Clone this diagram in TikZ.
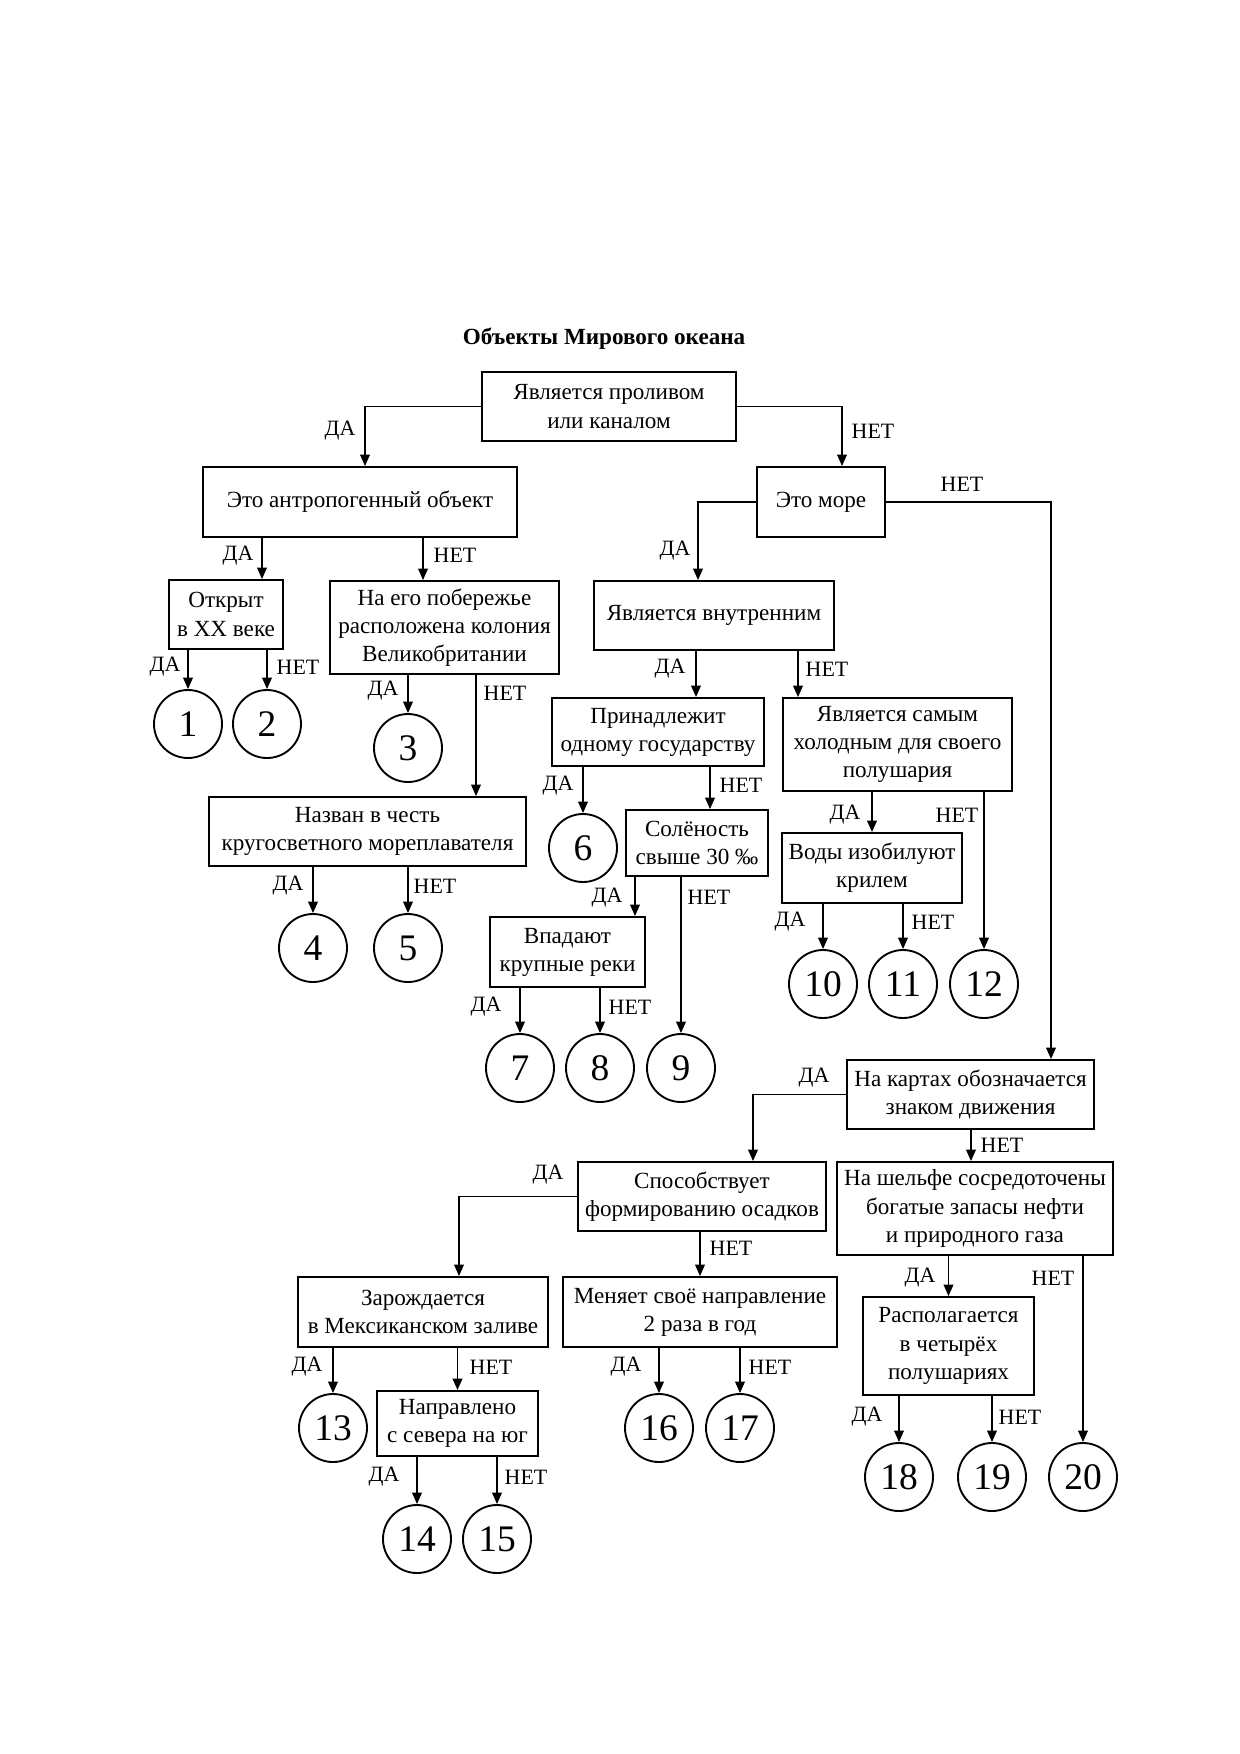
\documentclass[tikz,border=0pt]{standalone}
\usepackage{fontspec}
\setmainfont{Liberation Serif}
\usetikzlibrary{arrows.meta}
\tikzset{
  box/.style={draw, line width=0.9pt, inner sep=0pt, align=center, font=\fontsize{11.1}{13.5}\selectfont},
  bx/.style 2 args={minimum width=#1*0.48pt, minimum height=#2*0.48pt},
  res/.style={draw, circle, line width=0.9pt, inner sep=0pt, minimum size=68*0.48pt, font=\fontsize{18}{20}\selectfont},
  lbl/.style={inner sep=0pt, font=\fontsize{10.5}{12.5}\selectfont},
  arr/.style={line width=0.9pt, -{Triangle[length=5.5pt,width=4.6pt]}}
}
\begin{document}
\begin{tikzpicture}[x=0.48pt, y=-0.48pt]
\fill[white] (0,0) rectangle (1240,1754);
\useasboundingbox (0,0) rectangle (1240,1754);

\node[font=\fontsize{11.1}{13.5}\selectfont\bfseries] (title) at (604,339) {Объекты Мирового океана};

% boxes
\node[box, bx={254}{69}] (A) at (609,406.5) {Является проливом\\или каналом};
\node[box, bx={314}{70}] (B) at (360,502) {Это антропогенный объект};
\node[box, bx={128}{70}] (C) at (821,502) {Это море};
\node[box, bx={240}{69}] (D) at (714,615.5) {Является внутренним};
\node[box, bx={114}{69}] (E) at (226,614.5) {Открыт\\в XX веке};
\node[box, bx={229}{93}] (F) at (444.5,627.5) {На его побережье\\расположена колония\\Великобритании};
\node[box, bx={317}{69}] (G) at (367.5,831.5) {Назван в честь\\кругосветного мореплавателя};
\node[box, bx={212}{68}] (L) at (658,732) {Принадлежит\\одному государству};
\node[box, bx={229}{93}] (J) at (897.5,744.5) {Является самым\\холодным для своего\\полушария};
\node[box, bx={142}{66}] (H) at (697,843) {Солёность\\свыше 30 ‰};
\node[box, bx={180}{70}] (K) at (872,868) {Воды изобилуют\\крилем};
\node[box, bx={155}{70}] (I) at (567.5,952) {Впадают\\крупные реки};
\node[box, bx={247}{69}] (N) at (970.5,1094.5) {На картах обозначается\\знаком движения};
\node[box, bx={248}{69}] (Q) at (702,1196.5) {Способствует\\формированию осадков};
\node[box, bx={276}{93}] (O) at (975,1208.5) {На шельфе сосредоточены\\богатые запасы нефти\\и природного газа};
\node[box, bx={250}{70}] (R) at (423,1312) {Зарождается\\в Мексиканском заливе};
\node[box, bx={274}{70}] (S) at (700,1312) {Меняет своё направление\\2 раза в год};
\node[box, bx={171}{98}] (P) at (948.5,1346) {Располагается\\в четырёх\\полушариях};
\node[box, bx={161}{65}] (T) at (457.5,1423.5) {Направлено\\с севера на юг};

% results
\node[res] (n1) at (188,724) {1};
\node[res] (n2) at (267,724) {2};
\node[res] (n3) at (408,748) {3};
\node[res] (n4) at (313,948) {4};
\node[res] (n5) at (408,948) {5};
\node[res] (n6) at (583,848) {6};
\node[res] (n7) at (520,1068) {7};
\node[res] (n8) at (600,1068) {8};
\node[res] (n9) at (681,1068) {9};
\node[res] (n10) at (823,984) {10};
\node[res] (n11) at (903,984) {11};
\node[res] (n12) at (984,984) {12};
\node[res] (n13) at (333,1428) {13};
\node[res] (n14) at (417,1539) {14};
\node[res] (n15) at (497,1539) {15};
\node[res] (n16) at (659,1428) {16};
\node[res] (n17) at (740,1428) {17};
\node[res] (n18) at (899,1477) {18};
\node[res] (n19) at (992,1477) {19};
\node[res] (n20) at (1083,1477) {20};

% connector columns
\coordinate (xAB) at (365,0);
\coordinate (xAC) at (842,0);
\coordinate (xCD) at (698,0);
\coordinate (xCN) at (1051,0);
\coordinate (xBE) at (262,0);
\coordinate (xBF) at (423,0);
\coordinate (xFG) at (476,0);
\coordinate (xDL) at (696,0);
\coordinate (xDJ) at (798,0);
\coordinate (xLH) at (710,0);
\coordinate (xHI) at (635,0);
\coordinate (xNQ) at (753,0);
\coordinate (xQR) at (459,0);
\coordinate (xNO) at (971,0);

% connectors
\draw[arr] (A.west) -| (B.north -| xAB);
\draw[arr] (A.east) -| (C.north -| xAC);
\draw[arr] (C.west) -| (D.north -| xCD);
\draw[arr] (C.east) -| (N.north -| xCN);
\draw[arr] (B.south -| xBE) -- (E.north -| xBE);
\draw[arr] (B.south -| xBF) -- (F.north -| xBF);
\draw[arr] (n1.north |- E.south) -- (n1.north);
\draw[arr] (n2.north |- E.south) -- (n2.north);
\draw[arr] (n3.north |- F.south) -- (n3.north);
\draw[arr] (F.south -| xFG) -- (G.north -| xFG);
\draw[arr] (n4.north |- G.south) -- (n4.north);
\draw[arr] (n5.north |- G.south) -- (n5.north);
\draw[arr] (D.south -| xDL) -- (L.north -| xDL);
\draw[arr] (D.south -| xDJ) -- (J.north -| xDJ);
\draw[arr] (n6.north |- L.south) -- (n6.north);
\draw[arr] (L.south -| xLH) -- (H.north -| xLH);
\draw[arr] (H.south -| xHI) -- (I.north -| xHI);
\draw[arr] (n9.north |- H.south) -- (n9.north);
\draw[arr] (n7.north |- I.south) -- (n7.north);
\draw[arr] (n8.north |- I.south) -- (n8.north);
\draw[arr] (K.north |- J.south) -- (K.north);
\draw[arr] (n12.north |- J.south) -- (n12.north);
\draw[arr] (n10.north |- K.south) -- (n10.north);
\draw[arr] (n11.north |- K.south) -- (n11.north);
\draw[arr] (N.west) -| (Q.north -| xNQ);
\draw[arr] (N.south -| xNO) -- (O.north -| xNO);
\draw[arr] (Q.west) -| (R.north -| xQR);
\draw[arr] (S.north |- Q.south) -- (S.north);
\draw[arr] (P.north |- O.south) -- (P.north);
\draw[arr] (n20.north |- O.south) -- (n20.north);
\draw[arr] (n13.north |- R.south) -- (n13.north);
\draw[arr] (T.north |- R.south) -- (T.north);
\draw[arr] (n14.north |- T.south) -- (n14.north);
\draw[arr] (n15.north |- T.south) -- (n15.north);
\draw[arr] (n16.north |- S.south) -- (n16.north);
\draw[arr] (n17.north |- S.south) -- (n17.north);
\draw[arr] (n18.north |- P.south) -- (n18.north);
\draw[arr] (n19.north |- P.south) -- (n19.north);

% labels
\node[lbl] (l1) at (340,431) {ДА};
\node[lbl] (l2) at (873,431) {НЕТ};
\node[lbl] (l3) at (675,551) {ДА};
\node[lbl] (l4) at (962,484) {НЕТ};
\node[lbl] (l5) at (238,556) {ДА};
\node[lbl] (l6) at (455,555) {НЕТ};
\node[lbl] (l7) at (165,667) {ДА};
\node[lbl] (l8) at (298,667) {НЕТ};
\node[lbl] (l9) at (383,691) {ДА};
\node[lbl] (l10) at (505,693) {НЕТ};
\node[lbl] (l11) at (288,886) {ДА};
\node[lbl] (l12) at (435,886) {НЕТ};
\node[lbl] (l13) at (670,669) {ДА};
\node[lbl] (l14) at (827,669) {НЕТ};
\node[lbl] (l15) at (558,786) {ДА};
\node[lbl] (l16) at (741,785) {НЕТ};
\node[lbl] (l17) at (607,898) {ДА};
\node[lbl] (l18) at (709,897) {НЕТ};
\node[lbl] (l19) at (486,1007) {ДА};
\node[lbl] (l20) at (630,1007) {НЕТ};
\node[lbl] (l21) at (845,815) {ДА};
\node[lbl] (l22) at (957,815) {НЕТ};
\node[lbl] (l23) at (790,922) {ДА};
\node[lbl] (l24) at (933,922) {НЕТ};
\node[lbl] (l25) at (814,1078) {ДА};
\node[lbl] (l26) at (1002,1145) {НЕТ};
\node[lbl] (l27) at (548,1175) {ДА};
\node[lbl] (l28) at (731,1248) {НЕТ};
\node[lbl] (l29) at (307,1367) {ДА};
\node[lbl] (l30) at (491,1367) {НЕТ};
\node[lbl] (l31) at (384,1477) {ДА};
\node[lbl] (l32) at (526,1477) {НЕТ};
\node[lbl] (l33) at (626,1367) {ДА};
\node[lbl] (l34) at (770,1367) {НЕТ};
\node[lbl] (l35) at (920,1278) {ДА};
\node[lbl] (l36) at (1053,1278) {НЕТ};
\node[lbl] (l37) at (867,1417) {ДА};
\node[lbl] (l38) at (1020,1417) {НЕТ};
\end{tikzpicture}
\end{document}
